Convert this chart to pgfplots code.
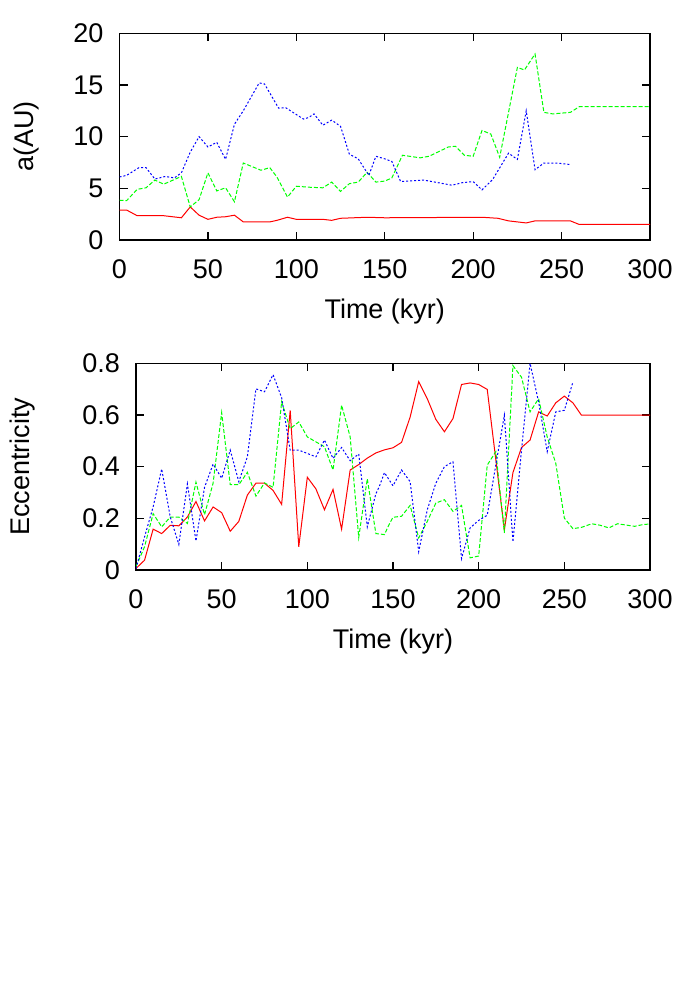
\documentclass[border=0pt]{standalone}
\usepackage{fontspec}
\setmainfont{Liberation Sans}
\usepackage{pgfplots}
\pgfplotsset{compat=1.18}
\usepackage{pgfplotstable}

\definecolor{gred}{RGB}{255,0,0}
\definecolor{ggreen}{RGB}{0,255,0}
\definecolor{gblue}{RGB}{0,0,255}

% semi-major axis (AU)
\pgfplotstableread{
t a
0 2.9
4 2.9
10 2.35
25 2.35
35 2.15
40 3.2
45 2.4
50 2.0
55 2.2
60 2.25
65 2.4
70 1.75
85 1.75
89 1.9
95 2.2
100 2.0
115 2.0
120 1.9
125 2.1
140 2.2
150 2.15
205 2.2
214 2.1
220 1.85
230 1.65
235 1.85
255 1.85
260 1.5
300 1.5
}\aRed
\pgfplotstableread{
t a
0 3.85
4 3.8
10 4.9
15 5.05
20 5.8
25 5.4
35 6.15
40 3.2
45 3.9
50 6.5
55 4.75
60 5.05
65 3.7
70 7.45
80 6.75
85 7.0
89 6.1
95 4.15
100 5.2
108 5.1
115 5.05
120 5.6
125 4.7
130 5.45
135 5.6
140 6.55
145 5.6
150 5.7
154 6.0
160 8.2
170 7.95
175 8.1
186 9.0
190 9.07
195 8.2
200 8.1
205 10.6
210 10.25
215 8.0
225 16.7
229 16.45
235 18.0
240 12.35
245 12.2
255 12.35
260 12.9
300 12.9
}\aGreen
\pgfplotstableread{
t a
0 6.1
4 6.25
11 7.0
15 7.0
20 5.9
26 6.15
31 6.0
35 6.5
40 8.5
45 10.0
50 9.0
55 9.45
60 7.8
65 11.2
70 12.5
79 15.2
82 15.1
90 12.75
94 12.8
104 11.7
107 11.85
110 12.2
115 11.1
120 11.6
125 11.0
130 8.3
135 7.85
141 6.25
145 8.1
150 7.85
154 7.6
159 5.65
172 5.8
188 5.3
194 5.55
200 5.65
205 4.85
211 5.85
220 8.4
225 7.8
230 12.5
235 6.8
240 7.45
247 7.45
255 7.3
}\aBlue

% eccentricity
\pgfplotstableread{
t e
0 0.006
5 0.038
10 0.158
15 0.141
20 0.173
25 0.171
30 0.205
35 0.265
40 0.19
45 0.244
50 0.222
55 0.15
60 0.188
65 0.29
70 0.336
75 0.336
80 0.308
85 0.254
90 0.618
95 0.09
100 0.359
105 0.314
110 0.233
115 0.312
120 0.158
125 0.387
130 0.408
135 0.433
140 0.453
145 0.465
150 0.473
155 0.494
160 0.592
165 0.729
170 0.663
175 0.583
180 0.535
185 0.586
190 0.718
195 0.724
200 0.718
205 0.699
215 0.156
220 0.377
225 0.474
230 0.503
235 0.612
240 0.596
245 0.647
250 0.673
255 0.647
260 0.599
300 0.599
}\eRed
\pgfplotstableread{
t e
0 0.013
5 0.09
10 0.218
15 0.167
20 0.205
25 0.205
30 0.18
35 0.34
40 0.214
45 0.336
50 0.609
55 0.33
60 0.33
65 0.378
70 0.286
75 0.337
80 0.32
85 0.651
90 0.547
95 0.573
100 0.515
105 0.496
110 0.477
115 0.387
120 0.638
125 0.515
130 0.126
135 0.353
140 0.141
145 0.137
148 0.18
150 0.204
155 0.208
160 0.25
165 0.124
170 0.188
175 0.259
180 0.272
185 0.227
190 0.25
195 0.047
200 0.054
205 0.406
210 0.458
215 0.144
220 0.791
225 0.746
230 0.612
235 0.663
240 0.515
245 0.413
250 0.201
255 0.16
260 0.165
266 0.179
271 0.173
276 0.163
281 0.179
291 0.169
296 0.176
300 0.178
}\eGreen
\pgfplotstableread{
t e
0 0.006
5 0.128
10 0.244
15 0.391
20 0.205
25 0.099
30 0.333
35 0.112
40 0.32
45 0.41
50 0.355
55 0.464
60 0.342
65 0.438
70 0.701
75 0.69
80 0.756
85 0.667
90 0.464
95 0.464
105 0.438
110 0.503
115 0.432
120 0.474
125 0.423
130 0.449
135 0.167
140 0.295
142 0.323
145 0.377
150 0.326
155 0.387
160 0.342
165 0.071
170 0.233
175 0.336
180 0.4
185 0.419
190 0.044
195 0.163
200 0.192
205 0.212
210 0.406
215 0.599
220 0.109
225 0.464
230 0.8
235 0.65
240 0.458
245 0.612
250 0.618
255 0.727
}\eBlue

\pgfplotsset{
  gnu/.style={
    scale only axis,
    anchor=north west,
    font=\fontsize{13.5}{16}\selectfont,
    /pgf/number format/assume math mode=true,
    axis line style={line width=0.6pt},
    every tick/.style={black, line width=0.6pt},
    major tick length=4pt,
    tick align=inside,
    xmin=0, xmax=300,
    xtick={0,50,...,300},
    xticklabel style={yshift=-6.5pt},
    yticklabel style={xshift=-4.5pt},
    xlabel={Time (kyr)},
    xlabel style={at={(rel axis cs:0.5,-0.345)}, anchor=center},
    clip=true,
  },
  red line/.style={gred, line width=0.5pt},
  green line/.style={ggreen, line width=0.5pt, dash pattern=on 2pt off 1pt},
  blue line/.style={gblue, line width=0.5pt, dash pattern=on 1pt off 1pt},
}

\begin{document}
\begin{tikzpicture}
\path[use as bounding box] (0,0) rectangle (350pt,-500pt);

\begin{axis}[gnu,
    at={(59.75pt,-16.65pt)},
    width=265.25pt, height=103.35pt,
    ymin=0, ymax=20,
    ytick={0,5,...,20},
    ylabel={a(AU)},
    ylabel style={at={(rel axis cs:-0.176,0.5)}, anchor=center},
]
\addplot[red line] table[x=t, y=a] {\aRed};
\addplot[green line] table[x=t, y=a] {\aGreen};
\addplot[blue line] table[x=t, y=a] {\aBlue};
\end{axis}

\begin{axis}[gnu,
    at={(68pt,-181.65pt)},
    width=257pt, height=103.35pt,
    ymin=0, ymax=0.8,
    ytick={0,0.2,...,0.8},
    yticklabel style={/pgf/number format/fixed, /pgf/number format/precision=1},
    ylabel={Eccentricity},
    ylabel style={at={(rel axis cs:-0.221,0.5)}, anchor=center},
]
\addplot[red line] table[x=t, y=e] {\eRed};
\addplot[green line] table[x=t, y=e] {\eGreen};
\addplot[blue line] table[x=t, y=e] {\eBlue};
\end{axis}
\end{tikzpicture}
\end{document}
